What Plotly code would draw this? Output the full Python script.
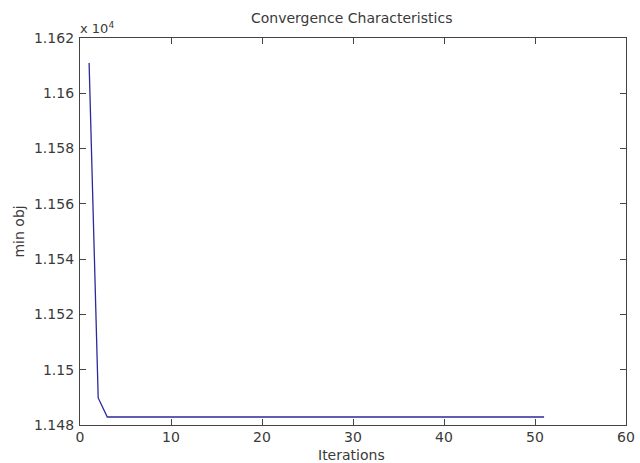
import plotly.graph_objects as go

iterations = list(range(1, 52))
min_obj = [11611.0, 11489.8] + [11482.9] * 49

y_tick_vals = [11480, 11500, 11520, 11540, 11560, 11580, 11600, 11620]
y_tick_text = ["1.148", "1.15", "1.152", "1.154", "1.156", "1.158", "1.16", "1.162"]
x_tick_vals = [0, 10, 20, 30, 40, 50, 60]

FAM = "DejaVu Sans, Verdana, sans-serif"
TXT = "#3a3a3a"
font = dict(family=FAM, size=14, color=TXT)

W, H = 640, 463
L, R, T, B = 80, 5, 38, 38
pw, ph = W - L - R, H - T - B

fig = go.Figure()
fig.add_trace(go.Scatter(x=iterations, y=min_obj, mode="lines",
                         line=dict(color="#2a2a9a", width=1.3), showlegend=False))

axis_common = dict(showline=True, linecolor="#444444", linewidth=1.3, mirror="allticks",
                   ticks="inside", ticklen=6, tickcolor="#444444", showgrid=False,
                   zeroline=False, tickfont=font, ticklabeloverflow="allow")

fig.update_layout(
    width=W, height=H,
    margin=dict(l=L, r=R, t=T, b=B),
    paper_bgcolor="white", plot_bgcolor="white",
    font=font,
    xaxis=dict(range=[0, 60], tickvals=x_tick_vals, ticktext=[str(v) for v in x_tick_vals],
               ticklabelstandoff=-1, **axis_common),
    yaxis=dict(range=[11480, 11620], tickvals=y_tick_vals, ticktext=y_tick_text,
               ticklabelstandoff=2, **axis_common),
    annotations=[
        dict(text="Convergence Characteristics", xref="paper", yref="paper",
             x=(356 - L) / pw, y=1 + (T - 18) / ph, xanchor="center", yanchor="middle",
             showarrow=False, font=font),
        dict(text="Iterations", xref="paper", yref="paper",
             x=(356 - L) / pw, y=-(455 - (T + ph)) / ph, xanchor="center", yanchor="middle",
             showarrow=False, font=font),
        dict(text="min obj", xref="paper", yref="paper", textangle=-90,
             x=-(L - 17) / pw, y=0.5, xanchor="center", yanchor="middle",
             showarrow=False, font=font),
        dict(text="x 10<sup>4</sup>", xref="paper", yref="paper", x=0, y=1,
             xanchor="left", yanchor="bottom", showarrow=False, yshift=0, xshift=-2,
             font=dict(family=FAM, size=13, color=TXT)),
    ],
)

fig.write_html("out.html")
